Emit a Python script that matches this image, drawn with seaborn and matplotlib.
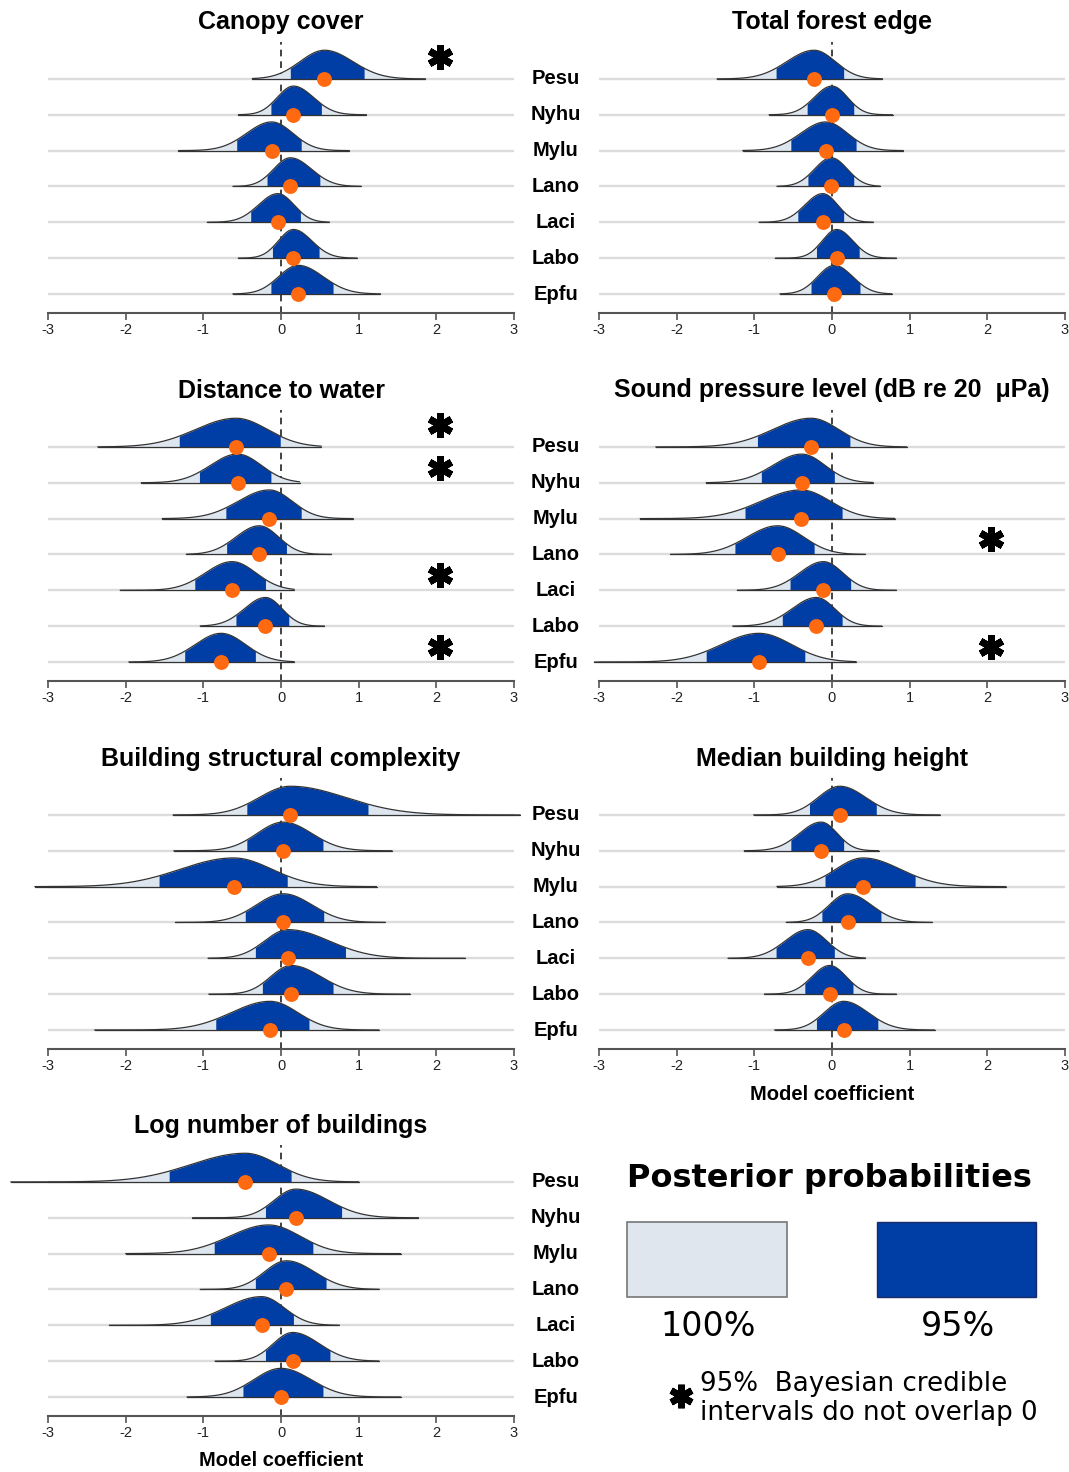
import numpy as np
import pandas as pd
import matplotlib
matplotlib.use("Agg")
import matplotlib.pyplot as plt
import seaborn as sns
from matplotlib.patches import Rectangle

species = ["Pesu", "Nyhu", "Mylu", "Lano", "Laci", "Labo", "Epfu"]

# Canopy cover
canopy_med = [0.56, 0.16, -0.12, 0.12, -0.04, 0.16, 0.22]
canopy_lo = [0.12, -0.13, -0.57, -0.18, -0.39, -0.11, -0.13]
canopy_hi = [1.07, 0.52, 0.26, 0.50, 0.25, 0.49, 0.67]
canopy_min = [-0.37, -0.55, -1.32, -0.62, -0.95, -0.55, -0.62]
canopy_max = [1.86, 1.10, 0.88, 1.03, 0.62, 0.98, 1.28]
canopy_sig = ["Pesu"]

# Total forest edge
edge_med = [-0.23, 0.0, -0.08, -0.01, -0.12, 0.06, 0.03]
edge_lo = [-0.72, -0.32, -0.53, -0.31, -0.44, -0.20, -0.27]
edge_hi = [0.15, 0.28, 0.31, 0.28, 0.15, 0.35, 0.36]
edge_min = [-1.48, -0.81, -1.15, -0.71, -0.94, -0.73, -0.67]
edge_max = [0.65, 0.78, 0.92, 0.62, 0.53, 0.83, 0.77]
edge_sig = []

# Distance to water
water_med = [-0.58, -0.56, -0.15, -0.28, -0.63, -0.20, -0.77]
water_lo = [-1.31, -1.05, -0.71, -0.70, -1.11, -0.58, -1.24]
water_hi = [-0.01, -0.13, 0.26, 0.07, -0.20, 0.10, -0.33]
water_min = [-2.36, -1.80, -1.53, -1.22, -2.07, -1.04, -1.96]
water_max = [0.52, 0.24, 0.93, 0.65, 0.17, 0.56, 0.17]
water_sig = ["Pesu", "Nyhu", "Laci", "Epfu"]

# Sound pressure level
spl_med = [-0.27, -0.39, -0.40, -0.70, -0.11, -0.20, -0.94]
spl_lo = [-0.96, -0.91, -1.12, -1.25, -0.54, -0.64, -1.62]
spl_hi = [0.23, 0.03, 0.13, -0.23, 0.24, 0.13, -0.35]
spl_min = [-2.27, -1.62, -2.47, -2.08, -1.22, -1.28, -3.06]
spl_max = [0.96, 0.53, 0.81, 0.43, 0.83, 0.64, 0.31]
spl_sig = ["Lano", "Epfu"]

# Building structural complexity
complexity_med = [0.12, 0.03, -0.61, 0.03, 0.09, 0.13, -0.14]
complexity_lo = [-0.44, -0.44, -1.57, -0.46, -0.33, -0.24, -0.84]
complexity_hi = [1.12, 0.54, 0.08, 0.55, 0.83, 0.67, 0.36]
complexity_min = [-1.39, -1.38, -3.17, -1.36, -0.94, -0.93, -2.40]
complexity_max = [3.08, 1.43, 1.23, 1.34, 2.37, 1.66, 1.26]
complexity_sig = []

# Median building height
height_med = [0.10, -0.14, 0.40, 0.20, -0.31, -0.03, 0.15]
height_lo = [-0.29, -0.53, -0.09, -0.13, -0.72, -0.35, -0.20]
height_hi = [0.57, 0.15, 1.07, 0.63, 0.03, 0.27, 0.59]
height_min = [-1.01, -1.13, -0.71, -0.59, -1.34, -0.87, -0.74]
height_max = [1.39, 0.60, 2.24, 1.29, 0.43, 0.83, 1.32]
height_sig = []

# Log number of buildings
nbuild_med = [-0.46, 0.19, -0.16, 0.07, -0.25, 0.15, 0.0]
nbuild_lo = [-1.44, -0.20, -0.86, -0.33, -0.91, -0.20, -0.49]
nbuild_hi = [0.13, 0.78, 0.41, 0.58, 0.16, 0.63, 0.54]
nbuild_min = [-3.48, -1.14, -2.00, -1.04, -2.21, -0.85, -1.21]
nbuild_max = [1.00, 1.77, 1.54, 1.26, 0.75, 1.26, 1.54]
nbuild_sig = []

panels = [
    ("Canopy cover", canopy_med, canopy_lo, canopy_hi, canopy_min, canopy_max, canopy_sig, 0, 0),
    ("Total forest edge", edge_med, edge_lo, edge_hi, edge_min, edge_max, edge_sig, 1, 0),
    ("Distance to water", water_med, water_lo, water_hi, water_min, water_max, water_sig, 0, 1),
    ("Sound pressure level (dB re 20  \u03bcPa)", spl_med, spl_lo, spl_hi, spl_min, spl_max, spl_sig, 1, 1),
    ("Building structural complexity", complexity_med, complexity_lo, complexity_hi,
     complexity_min, complexity_max, complexity_sig, 0, 2),
    ("Median building height", height_med, height_lo, height_hi, height_min, height_max, height_sig, 1, 2),
    ("Log number of buildings", nbuild_med, nbuild_lo, nbuild_hi, nbuild_min, nbuild_max, nbuild_sig, 0, 3),
]

DARK = "#003da5"
LIGHT = "#dde5ee"
ORANGE = "#ff6a10"

sns.set_theme(style="white")
plt.rcParams["font.family"] = ["Liberation Sans", "DejaVu Sans"]
plt.rcParams["axes.unicode_minus"] = False
plt.rcParams["text.color"] = "black"
plt.rcParams["axes.titlecolor"] = "black"
plt.rcParams["axes.labelcolor"] = "black"

W, H = 1069, 1472
fig = plt.figure(figsize=(W / 100, H / 100), dpi=100)

col_x = [48, 599]
ax_w = 466
row_top = [42, 410, 778, 1145]
ax_h = 271
ridge_h = 0.8

for title, med, lo, hi, mn, mx, sig, col, row in panels:
    left = col_x[col] / W
    bottom = 1 - (row_top[row] + ax_h) / H
    ax = fig.add_axes([left, bottom, ax_w / W, ax_h / H])

    df = pd.DataFrame({"species": species, "median": med, "lo": lo, "hi": hi,
                       "min": mn, "max": mx})
    df["ypos"] = np.arange(len(species))[::-1]

    ax.hlines(df["ypos"], -3, 3, color="#dcdcdc", lw=1.7, zorder=0.5)
    ax.axvline(0, color="#222222", lw=1.2, ls=(0, (4, 3)), zorder=1)

    for i, r in df.iterrows():
        z = 2 + i
        sdl = (r["median"] - r["lo"]) / 1.4
        sdr = (r["hi"] - r["median"]) / 1.4

        def dens(x):
            sd = np.where(x < r["median"], sdl, sdr)
            return ridge_h * np.exp(-0.5 * ((x - r["median"]) / sd) ** 2)

        xs = np.linspace(r["min"], r["max"], 400)
        xd = np.linspace(r["lo"], r["hi"], 200)
        y0 = r["ypos"]
        ax.fill_between(xs, y0, y0 + dens(xs), color=LIGHT, lw=0, zorder=z, clip_on=False)
        ax.fill_between(xd, y0, y0 + dens(xd), color=DARK, lw=0, zorder=z + 0.1, clip_on=False)
        ax.plot(xs, y0 + dens(xs), color="#333333", lw=0.9, zorder=z + 0.2, clip_on=False)
        ax.plot([r["min"], r["max"]], [y0, y0], color="#333333", lw=0.9, zorder=z + 0.2,
                clip_on=False)

    sns.scatterplot(data=df, x="median", y="ypos", color=ORANGE, s=115, linewidth=0,
                    ax=ax, zorder=20, clip_on=False, legend=False)

    for sp in sig:
        yp = df.loc[df["species"] == sp, "ypos"].iloc[0]
        off = 0.6 if yp == 6 else 0.42
        ax.plot(2.05, yp + off, marker=(6, 2, 0), ms=18, mew=5, color="black",
                clip_on=False, zorder=25)

    ax.set_xlim(-3, 3)
    ax.set_ylim(-0.53, 7.03)
    ax.set_xticks(range(-3, 4))
    ax.set_xticklabels([str(v) for v in range(-3, 4)], fontsize=10.5, color="#222222")
    ax.set_yticks([])
    ax.set_xlabel("")
    ax.set_ylabel("")
    for s in ["top", "right", "left"]:
        ax.spines[s].set_visible(False)
    ax.spines["bottom"].set_color("#555555")
    ax.spines["bottom"].set_linewidth(1.5)
    ax.tick_params(axis="x", bottom=True, direction="out", length=5, width=1.2,
                   color="#555555", pad=2)
    ax.patch.set_alpha(0)
    ax.set_title(title, fontsize=18, fontweight="bold", pad=9)

    # species labels in the middle column
    lab_x = (556 - col_x[col]) / ax_w
    if col == 1 or row == 3:
        for sp, yp in zip(df["species"], df["ypos"]):
            ax.text(lab_x, yp, sp, transform=ax.get_yaxis_transform(), ha="center",
                    va="center", fontsize=14.5, fontweight="bold")

    if row == 3 or (row == 2 and col == 1):
        ax.text(0.5, -45 / ax_h, "Model coefficient", transform=ax.transAxes, ha="center",
                va="center", fontsize=14.5, fontweight="bold")

# legend panel in pixel coordinates
lg = fig.add_axes([590 / W, 0, (W - 590) / W, (H - 1140) / H])
lg.set_xlim(590, W)
lg.set_ylim(H, 1140)
lg.axis("off")
lg.text(829, 1178, "Posterior probabilities", ha="center", va="center", fontsize=23,
        fontweight="bold", family="DejaVu Sans")
lg.add_patch(Rectangle((627, 1222), 160, 75, facecolor="#dfe6ee", edgecolor="#777777", lw=1.2))
lg.add_patch(Rectangle((877, 1222), 159, 75, facecolor=DARK, edgecolor="#1a2a66", lw=1.0))
lg.text(708, 1326, "100%", ha="center", va="center", fontsize=24, family="DejaVu Sans")
lg.text(958, 1326, "95%", ha="center", va="center", fontsize=24, family="DejaVu Sans")
lg.plot(681, 1396, marker=(6, 2, 0), ms=17, mew=4.8, color="black")
lg.text(700, 1384, "95%  Bayesian credible", ha="left", va="center", fontsize=18.8,
        family="DejaVu Sans")
lg.text(700, 1413, "intervals do not overlap 0", ha="left", va="center", fontsize=18.8,
        family="DejaVu Sans")

fig.savefig("out.png", dpi=100, facecolor="white")
